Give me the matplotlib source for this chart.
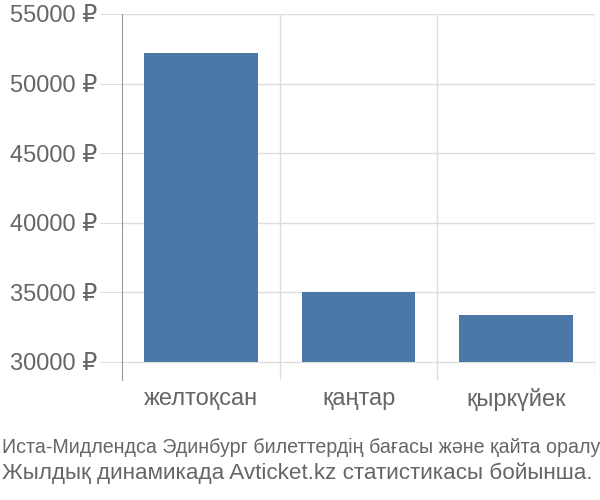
import matplotlib.pyplot as plt

# данные с графика
months = ["желтоқсан", "қаңтар", "қыркүйек"]
prices = [52200, 35000, 33400]
y_ticks = [30000, 35000, 40000, 45000, 50000, 55000]

caption_lines = ["Иста-Мидлендса Эдинбург билеттердің бағасы және қайта оралу",
                 "Жылдық динамикада Avticket.kz статистикасы бойынша."]
caption_sizes = [14.1, 16.2]

plt.rcParams['font.family'] = ['Liberation Sans', 'DejaVu Sans']

fig = plt.figure(figsize=(6, 5), dpi=100)
ax = fig.add_axes([122 / 600, 1 - 380 / 500, 473 / 600, 366 / 500])

base = 30000
x = range(len(months))
ax.bar(x, [p - base for p in prices], bottom=base, width=0.72,
       color="#4c78a8", zorder=3)

ax.set_xlim(-0.5, len(months) - 0.5)
ax.set_ylim(28700, 55000)

ax.set_yticks(y_ticks)
ax.set_yticklabels([f"{v} ₽" for v in y_ticks])
ax.set_xticks(x)
ax.set_xticklabels(months)

# вертикальные линии между категориями
for b in [0.5, 1.5, 2.5]:
    ax.axvline(b, color="#dddddd", lw=1, zorder=1)
ax.grid(axis="y", color="#dddddd", lw=1, zorder=1)

for s in ["top", "right", "bottom"]:
    ax.spines[s].set_visible(False)
ax.spines["left"].set_color("#999999")

ax.tick_params(axis="y", length=16, color="#dddddd", labelsize=17,
               labelcolor="#666666", pad=2)
ax.tick_params(axis="x", length=0, labelsize=17, labelcolor="#666666", pad=6)

# подпись снизу
for i, line in enumerate(caption_lines):
    fig.text(0.003, 1 - (447 + 26 * i) / 500, line, fontsize=caption_sizes[i],
             color="#666666", ha="left", va="center")

fig.savefig("out.png", dpi=100)
